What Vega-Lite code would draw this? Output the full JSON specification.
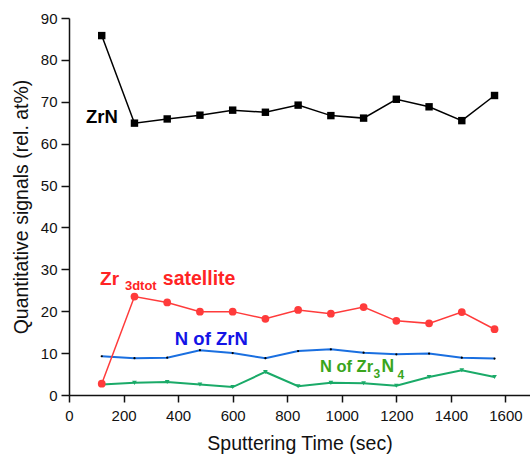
{
  "$schema": "https://vega.github.io/schema/vega-lite/v6.json",
  "width": 461,
  "height": 377,
  "autosize": "none",
  "padding": {"left": 69, "top": 18, "right": 0, "bottom": 60},
  "config": {
    "view": {"stroke": null},
    "font": "Liberation Sans",
    "axis": {
      "domainColor": "#111",
      "domainWidth": 1.5,
      "tickColor": "#111",
      "tickWidth": 1.5,
      "labelFont": "Liberation Sans",
      "labelFontSize": 15,
      "labelColor": "#111",
      "titleFont": "Liberation Sans",
      "titleFontSize": 19.5,
      "titleFontWeight": "normal",
      "titleColor": "#111",
      "grid": false
    }
  },
  "layer": [
    {
      "data": {
        "values": [
          {"t": 120, "v": 85.8, "s": "ZrN"}, {"t": 240, "v": 64.9, "s": "ZrN"}, {"t": 360, "v": 65.9, "s": "ZrN"}, {"t": 480, "v": 66.8, "s": "ZrN"}, {"t": 600, "v": 68.0, "s": "ZrN"}, {"t": 720, "v": 67.5, "s": "ZrN"}, {"t": 840, "v": 69.2, "s": "ZrN"}, {"t": 960, "v": 66.7, "s": "ZrN"}, {"t": 1080, "v": 66.1, "s": "ZrN"}, {"t": 1200, "v": 70.6, "s": "ZrN"}, {"t": 1320, "v": 68.8, "s": "ZrN"}, {"t": 1440, "v": 65.5, "s": "ZrN"}, {"t": 1560, "v": 71.5, "s": "ZrN"},
          {"t": 120, "v": 2.7, "s": "Sat"}, {"t": 240, "v": 23.5, "s": "Sat"}, {"t": 360, "v": 22.1, "s": "Sat"}, {"t": 480, "v": 19.9, "s": "Sat"}, {"t": 600, "v": 19.9, "s": "Sat"}, {"t": 720, "v": 18.2, "s": "Sat"}, {"t": 840, "v": 20.3, "s": "Sat"}, {"t": 960, "v": 19.4, "s": "Sat"}, {"t": 1080, "v": 21.0, "s": "Sat"}, {"t": 1200, "v": 17.7, "s": "Sat"}, {"t": 1320, "v": 17.1, "s": "Sat"}, {"t": 1440, "v": 19.8, "s": "Sat"}, {"t": 1560, "v": 15.7, "s": "Sat"},
          {"t": 120, "v": 9.25, "s": "NZrN"}, {"t": 240, "v": 8.8, "s": "NZrN"}, {"t": 360, "v": 8.9, "s": "NZrN"}, {"t": 480, "v": 10.7, "s": "NZrN"}, {"t": 600, "v": 10.0, "s": "NZrN"}, {"t": 720, "v": 8.8, "s": "NZrN"}, {"t": 840, "v": 10.5, "s": "NZrN"}, {"t": 960, "v": 10.9, "s": "NZrN"}, {"t": 1080, "v": 10.1, "s": "NZrN"}, {"t": 1200, "v": 9.7, "s": "NZrN"}, {"t": 1320, "v": 9.9, "s": "NZrN"}, {"t": 1440, "v": 8.9, "s": "NZrN"}, {"t": 1560, "v": 8.7, "s": "NZrN"},
          {"t": 120, "v": 2.5, "s": "NZr3N4"}, {"t": 240, "v": 2.9, "s": "NZr3N4"}, {"t": 360, "v": 3.1, "s": "NZr3N4"}, {"t": 480, "v": 2.5, "s": "NZr3N4"}, {"t": 600, "v": 1.9, "s": "NZr3N4"}, {"t": 720, "v": 5.5, "s": "NZr3N4"}, {"t": 840, "v": 2.1, "s": "NZr3N4"}, {"t": 960, "v": 2.9, "s": "NZr3N4"}, {"t": 1080, "v": 2.8, "s": "NZr3N4"}, {"t": 1200, "v": 2.2, "s": "NZr3N4"}, {"t": 1320, "v": 4.3, "s": "NZr3N4"}, {"t": 1440, "v": 5.9, "s": "NZr3N4"}, {"t": 1560, "v": 4.3, "s": "NZr3N4"}
        ]
      },
      "encoding": {
        "x": {
          "field": "t", "type": "quantitative",
          "scale": {"domain": [0, 1690], "nice": false, "zero": false},
          "axis": {
            "title": "Sputtering Time (sec)",
            "format": "d",
            "values": [0, 100, 200, 300, 400, 500, 600, 700, 800, 900, 1000, 1100, 1200, 1300, 1400, 1500, 1600],
            "labelExpr": "datum.value % 200 === 0 ? datum.label : ''",
            "tickSize": {"condition": {"test": "datum.value % 200 === 0", "value": 7}, "value": 4},
            "labelPadding": 6,
            "titlePadding": 11,
            "labelFlush": false
          }
        },
        "y": {
          "field": "v", "type": "quantitative",
          "scale": {"domain": [0, 90], "nice": false},
          "axis": {
            "title": "Quantitative signals (rel. at%)",
            "values": [0, 5, 10, 15, 20, 25, 30, 35, 40, 45, 50, 55, 60, 65, 70, 75, 80, 85, 90],
            "labelExpr": "datum.value % 10 === 0 ? datum.label : ''",
            "tickSize": {"condition": {"test": "datum.value % 10 === 0", "value": 8}, "value": 4},
            "labelPadding": 4,
            "titlePadding": 9,
            "labelFlush": false
          }
        }
      },
      "layer": [
        {
          "transform": [{"filter": "datum.s === 'ZrN'"}],
          "mark": {"type": "line", "color": "#000", "strokeWidth": 1.5}
        },
        {
          "transform": [{"filter": "datum.s === 'ZrN'"}],
          "mark": {"type": "point", "shape": "square", "filled": true, "color": "#000", "opacity": 1, "size": 55}
        },
        {
          "transform": [{"filter": "datum.s === 'NZrN'"}],
          "mark": {"type": "line", "color": "#1a6fe0", "strokeWidth": 2}
        },
        {
          "transform": [{"filter": "datum.s === 'NZrN'"}],
          "mark": {"type": "point", "shape": "circle", "filled": true, "color": "#000", "opacity": 1, "size": 5}
        },
        {
          "transform": [{"filter": "datum.s === 'NZr3N4'"}],
          "mark": {"type": "line", "color": "#1aaa68", "strokeWidth": 2}
        },
        {
          "transform": [{"filter": "datum.s === 'NZr3N4'"}],
          "mark": {"type": "point", "shape": "triangle-down", "filled": true, "color": "#1aaa68", "opacity": 1, "size": 22}
        },
        {
          "transform": [{"filter": "datum.s === 'Sat'"}],
          "mark": {"type": "line", "color": "#ff3b3b", "strokeWidth": 1.5}
        },
        {
          "transform": [{"filter": "datum.s === 'Sat'"}],
          "mark": {"type": "point", "shape": "circle", "filled": true, "color": "#ff3b3b", "opacity": 1, "size": 60}
        }
      ]
    },
    {
      "mark": {"type": "rule", "color": "#111", "strokeWidth": 1.5},
      "encoding": {"y": {"datum": 90}}
    },
    {
      "data": {"values": [{"label": "ZrN"}]},
      "mark": {"type": "text", "align": "left", "baseline": "alphabetic", "fontSize": 18.5, "fontWeight": "bold", "color": "#000"},
      "encoding": {"x": {"datum": 62}, "y": {"datum": 65.0}, "text": {"field": "label"}}
    },
    {
      "data": {"values": [{"label": "Zr"}]},
      "mark": {"type": "text", "align": "left", "baseline": "alphabetic", "fontSize": 19, "fontWeight": "bold", "color": "#ff2424"},
      "encoding": {"x": {"datum": 114}, "y": {"datum": 26.2}, "text": {"field": "label"}}
    },
    {
      "data": {"values": [{"label": "3dtot"}]},
      "mark": {"type": "text", "align": "left", "baseline": "alphabetic", "fontSize": 13, "fontWeight": "bold", "color": "#ff2424"},
      "encoding": {"x": {"datum": 205}, "y": {"datum": 25.0}, "text": {"field": "label"}}
    },
    {
      "data": {"values": [{"label": "satellite"}]},
      "mark": {"type": "text", "align": "left", "baseline": "alphabetic", "fontSize": 19.5, "fontWeight": "bold", "color": "#ff2424"},
      "encoding": {"x": {"datum": 344}, "y": {"datum": 26.2}, "text": {"field": "label"}}
    },
    {
      "data": {"values": [{"label": "N of ZrN"}]},
      "mark": {"type": "text", "align": "left", "baseline": "alphabetic", "fontSize": 18.5, "fontWeight": "bold", "color": "#1414e6"},
      "encoding": {"x": {"datum": 388}, "y": {"datum": 11.9}, "text": {"field": "label"}}
    },
    {
      "data": {"values": [{"label": "N of Zr"}]},
      "mark": {"type": "text", "align": "left", "baseline": "alphabetic", "fontSize": 16.5, "fontWeight": "bold", "color": "#3aa51c"},
      "encoding": {"x": {"datum": 920}, "y": {"datum": 5.5}, "text": {"field": "label"}}
    },
    {
      "data": {"values": [{"label": "3"}]},
      "mark": {"type": "text", "align": "left", "baseline": "alphabetic", "fontSize": 12, "fontWeight": "bold", "color": "#3aa51c"},
      "encoding": {"x": {"datum": 1116}, "y": {"datum": 4.1}, "text": {"field": "label"}}
    },
    {
      "data": {"values": [{"label": "N"}]},
      "mark": {"type": "text", "align": "left", "baseline": "alphabetic", "fontSize": 17.5, "fontWeight": "bold", "color": "#3aa51c"},
      "encoding": {"x": {"datum": 1146}, "y": {"datum": 5.5}, "text": {"field": "label"}}
    },
    {
      "data": {"values": [{"label": "4"}]},
      "mark": {"type": "text", "align": "left", "baseline": "alphabetic", "fontSize": 12, "fontWeight": "bold", "color": "#3aa51c"},
      "encoding": {"x": {"datum": 1204}, "y": {"datum": 3.8}, "text": {"field": "label"}}
    }
  ]
}
